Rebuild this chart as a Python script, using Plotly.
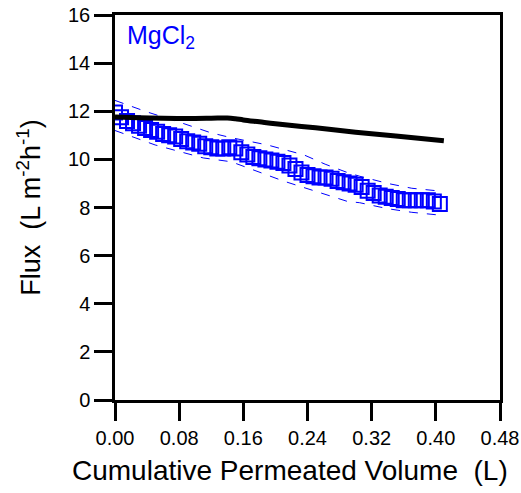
import plotly.graph_objects as go

# Blue square data (MgCl2 measured flux)
vol_sq = [0.000, 0.0075, 0.015, 0.0225, 0.030, 0.0375, 0.045, 0.0525, 0.060, 0.0675,
          0.075, 0.0825, 0.090, 0.0975, 0.105, 0.1125, 0.120, 0.1275, 0.135, 0.1425,
          0.150, 0.1575, 0.165, 0.1725, 0.180, 0.1875, 0.195, 0.2025, 0.210, 0.2175,
          0.225, 0.2325, 0.240, 0.2475, 0.255, 0.2625, 0.270, 0.2775, 0.285, 0.2925,
          0.300, 0.3075, 0.315, 0.3225, 0.330, 0.3375, 0.345, 0.3525, 0.360, 0.3675,
          0.375, 0.3825, 0.390, 0.3975, 0.405]
flux_sq = [11.95, 11.75, 11.6, 11.5, 11.4, 11.3, 11.22, 11.15, 11.05, 11.0,
           10.95, 10.85, 10.75, 10.7, 10.65, 10.55, 10.5, 10.45, 10.45, 10.5,
           10.45, 10.3, 10.2, 10.1, 10.05, 10.0, 9.95, 9.9, 9.85, 9.75,
           9.6, 9.45, 9.35, 9.3, 9.25, 9.25, 9.2, 9.1, 9.05, 9.0,
           8.95, 8.85, 8.7, 8.6, 8.5, 8.45, 8.4, 8.35, 8.3, 8.3,
           8.3, 8.3, 8.3, 8.25, 8.15]

# Dashed bands
vol_up = [0.0, 0.04, 0.08, 0.12, 0.145, 0.19, 0.236, 0.262, 0.29, 0.305, 0.34, 0.37, 0.40]
flux_up = [12.45, 11.97, 11.55, 11.1, 10.9, 10.6, 10.18, 9.8, 9.45, 9.3, 9.0, 8.8, 8.7]
vol_lo = [0.0, 0.05, 0.11, 0.145, 0.21, 0.253, 0.29, 0.305, 0.34, 0.37, 0.40]
flux_lo = [11.2, 10.6, 10.06, 9.9, 9.1, 8.65, 8.25, 8.2, 7.95, 7.8, 7.7]

# Black line (model)
vol_line = [0.0, 0.03, 0.06, 0.09, 0.12, 0.14, 0.15, 0.16, 0.18, 0.20, 0.25, 0.30, 0.35, 0.41]
flux_line = [11.76, 11.73, 11.71, 11.7, 11.71, 11.72, 11.69, 11.64, 11.56, 11.48, 11.31, 11.13, 10.97, 10.77]

x_ticks = [0.00, 0.08, 0.16, 0.24, 0.32, 0.40, 0.48]
x_tick_labels = ["0.00", "0.08", "0.16", "0.24", "0.32", "0.40", "0.48"]
y_ticks = [0, 2, 4, 6, 8, 10, 12, 14, 16]

FONT = "Liberation Sans, Arial"

fig = go.Figure()
fig.add_trace(go.Scatter(x=vol_up, y=flux_up, mode="lines",
                         line=dict(color="#0000FF", width=1, dash="dash"), showlegend=False))
fig.add_trace(go.Scatter(x=vol_lo, y=flux_lo, mode="lines",
                         line=dict(color="#0000FF", width=1, dash="dash"), showlegend=False))
fig.add_trace(go.Scatter(x=vol_sq, y=flux_sq, mode="markers",
                         marker=dict(symbol="square-open", size=14, color="#0000FF",
                                     line=dict(width=2, color="#0000FF")),
                         showlegend=False))
fig.add_trace(go.Scatter(x=vol_line, y=flux_line, mode="lines", line_shape="spline",
                         line=dict(color="black", width=5), showlegend=False))

fig.add_annotation(x=0.012, y=15.1, xref="x", yref="y", xanchor="left", yanchor="middle",
                   text="MgCl<sub>2</sub>", showarrow=False,
                   font=dict(family=FONT, size=25, color="#0000FF"))

# X axis title (placed slightly left of plot centre, as in the reference)
fig.add_annotation(x=0.455, y=-0.182, xref="paper", yref="paper",
                   xanchor="center", yanchor="middle", showarrow=False,
                   text="Cumulative Permeated Volume  (L)",
                   font=dict(family=FONT, size=28, color="black"))

axis_common = dict(showline=True, linecolor="black", linewidth=2.5, mirror=True,
                   ticks="outside", ticklen=18, tickwidth=2.5, tickcolor="black",
                   showgrid=False, zeroline=False, automargin=False,
                   tickfont=dict(family=FONT, size=20, color="black"))

fig.update_layout(
    width=521, height=493,
    margin=dict(l=115, r=21, t=15, b=93),
    plot_bgcolor="white", paper_bgcolor="white",
    xaxis=dict(range=[0, 0.48], tickvals=x_ticks, ticktext=x_tick_labels,
               **axis_common),
    yaxis=dict(range=[0, 16], tickvals=y_ticks,
               title=dict(text="Flux  (L m<sup>-2</sup>h<sup>-1</sup>)", standoff=20,
                          font=dict(family=FONT, size=27, color="black")),
               **axis_common),
)

fig.write_html("out.html")
